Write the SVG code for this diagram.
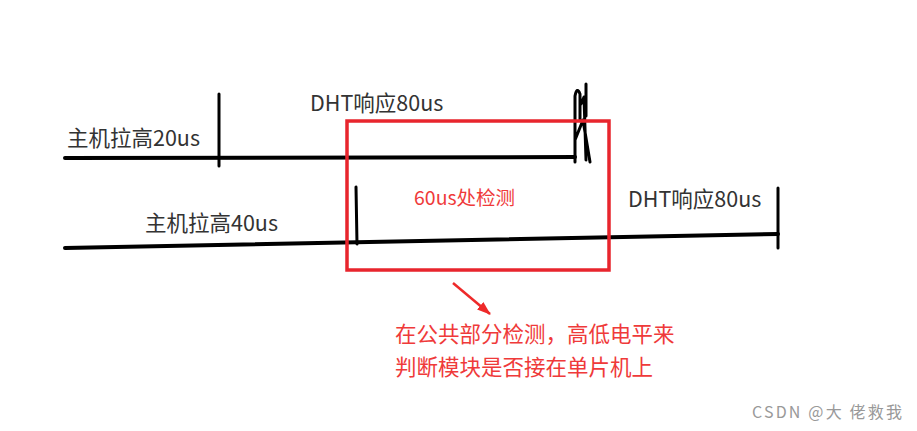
<svg xmlns="http://www.w3.org/2000/svg" width="917" height="431" viewBox="0 0 917 431">
<style>
.ln{stroke:#000;stroke-width:4;fill:none;stroke-linecap:round;stroke-linejoin:round}
.thin{stroke:#000;stroke-width:3;fill:none;stroke-linecap:round;stroke-linejoin:round}
.t{font-family:"Microsoft YaHei","Noto Sans CJK SC",sans-serif;font-size:21.5px;fill:#333}
.r{font-family:"Microsoft YaHei","Noto Sans CJK SC",sans-serif;fill:#ef3a3a}
</style>
<defs>
<marker id="ah" viewBox="0 0 14 10" refX="13" refY="5" markerWidth="5.5" markerHeight="4" orient="auto"><path d="M0,0 L14,5 L0,10 z" fill="#ee2a2a"/></marker>
</defs>
<rect width="917" height="431" fill="#fff"/>
<g id="connectors">
<path class="ln" d="M65,158 L575,157"/>
<path class="thin" d="M219,94 L219,166"/>
<path class="ln" d="M65,248 L778,234"/>
<path class="thin" d="M778,188 L778,248"/>
<path class="thin" d="M356,187 L357,244"/>
<path class="thin" d="M575,162 L575,96 Q577,86 580,94 L580,120 M581,104 L584,97 L586,160 M575,140 L583,120 L590,162 M586,84 L586,116"/>
<path d="M453,283 L490,314" stroke="#ee2a2a" stroke-width="2.5" fill="none" marker-end="url(#ah)"/>
</g>
<g id="box"><rect x="347" y="121" width="262" height="149" fill="none" stroke="#e8252d" stroke-width="3.5"/></g>
<g id="labels">
<text class="t" x="67" y="146">主机拉高20us</text>
<text class="t" x="310" y="111">DHT响应80us</text>
<text class="t" x="145" y="231">主机拉高40us</text>
<text class="t" x="628" y="207">DHT响应80us</text>
<text class="r" x="414" y="205" font-size="19.5">60us处检测</text>
<text class="r" x="395" y="342" font-size="21.5">在公共部分检测，高低电平来</text>
<text class="r" x="395" y="375" font-size="21.5">判断模块是否接在单片机上</text>
<text x="752" y="418" font-family="'Noto Sans CJK SC',sans-serif" font-size="16" fill="#999" textLength="150">CSDN @大 佬救我</text>
</g>
</svg>
